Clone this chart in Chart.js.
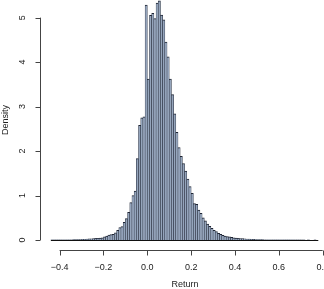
<!DOCTYPE html>
<html>
<head>
<meta charset="utf-8">
<script src="https://cdn.jsdelivr.net/npm/chart.js@4"></script>
<style>
  html, body { margin: 0; padding: 0; background: #fff; overflow: hidden; }
  #wrap { position: relative; width: 324px; height: 289px; }
</style>
</head>
<body>
<div id="wrap"><canvas id="myChart" width="324" height="289"></canvas></div>
<script>
// histogram of returns, bins of 0.01 starting at -0.44
const binStart = -0.44;
const binWidth = 0.01;
const density = [
  0.002, 0.002, 0.002, 0.002, 0.003, 0.003, 0.004, 0.004, 0.005, 0.006,
  0.007, 0.008, 0.010, 0.012, 0.014, 0.017, 0.02, 0.024, 0.028, 0.032,
  0.036, 0.04, 0.045, 0.05,
  0.07, 0.09, 0.11, 0.12, 0.13, 0.16, 0.22, 0.28, 0.3, 0.4,
  0.48, 0.62, 0.84, 1.0, 1.1, 1.83, 2.58, 2.75, 2.77, 5.28,
  3.62, 5.05, 5.1, 4.98, 5.33, 5.38, 5.06, 4.95, 4.45, 4.12,
  3.62, 3.27, 2.84, 2.42, 2.08, 1.88, 1.72, 1.55, 1.37, 1.2,
  1.05, 0.82, 0.8, 0.67, 0.6, 0.5, 0.43, 0.36, 0.31, 0.26,
  0.22, 0.19, 0.15, 0.13, 0.105, 0.09, 0.078, 0.07, 0.058, 0.05,
  0.045, 0.04, 0.034, 0.03, 0.026, 0.022, 0.019, 0.016, 0.013, 0.011,
  0.009, 0.008, 0.007, 0.006, 0.005, 0.005, 0.004, 0.004, 0.003, 0.003,
  0.003, 0.002, 0.002, 0.002, 0.002, 0.003, 0.002, 0.001, 0.001, 0.001,
  0.001, 0.001, 0, 0.001, 0, 0, 0.001, 0
];
const xTicks = [-0.4, -0.2, 0.0, 0.2, 0.4, 0.6, 0.8];
const yTicks = [0, 1, 2, 3, 4, 5];
const xTitle = 'Return';
const yTitle = 'Density';

const points = density.map((d, i) => ({ x: binStart + binWidth * (i + 0.5), y: d }));
const binEnd = binStart + binWidth * density.length;

function fmt(v) {
  const s = v.toFixed(1);
  return v < 0 ? '\u2212' + s.slice(1) : s;
}

// R-style axes drawn by hand
const rAxes = {
  id: 'rAxes',
  afterDraw(chart) {
    const c = chart.ctx;
    const xs = chart.scales.x, ys = chart.scales.y;
    c.save();
    // baseline of the histogram
    c.strokeStyle = '#111';
    c.lineWidth = 1;
    const y0 = Math.round(ys.getPixelForValue(0)) + 0.5;
    c.beginPath();
    c.moveTo(xs.getPixelForValue(binStart), y0);
    c.lineTo(xs.getPixelForValue(binEnd), y0);
    c.stroke();

    c.strokeStyle = '#444';
    c.fillStyle = '#222';
    c.font = '9px "Liberation Sans", Arial, sans-serif';
    // x axis
    const ax = 250.5;
    c.beginPath();
    c.moveTo(xs.getPixelForValue(xTicks[0]), ax);
    c.lineTo(xs.getPixelForValue(xTicks[xTicks.length - 1]), ax);
    xTicks.forEach(t => {
      const px = Math.round(xs.getPixelForValue(t)) + 0.5;
      c.moveTo(px, ax);
      c.lineTo(px, ax + 5);
    });
    c.stroke();
    c.textAlign = 'center';
    c.textBaseline = 'middle';
    xTicks.forEach(t => c.fillText(fmt(t), xs.getPixelForValue(t), 268));
    c.fillText(xTitle, 185, 285);

    // y axis
    const ay = 40.5;
    c.beginPath();
    c.moveTo(ay, ys.getPixelForValue(yTicks[0]));
    c.lineTo(ay, ys.getPixelForValue(yTicks[yTicks.length - 1]));
    yTicks.forEach(t => {
      const py = Math.round(ys.getPixelForValue(t)) + 0.5;
      c.moveTo(ay, py);
      c.lineTo(ay - 5, py);
    });
    c.stroke();
    yTicks.forEach(t => {
      c.save();
      c.translate(23, ys.getPixelForValue(t));
      c.rotate(-Math.PI / 2);
      c.fillText(String(t), 0, 0);
      c.restore();
    });
    c.save();
    c.translate(6, 120);
    c.rotate(-Math.PI / 2);
    c.fillText(yTitle, 0, 0);
    c.restore();
    c.restore();
  }
};

const ctx = document.getElementById('myChart');
new Chart(ctx, {
  type: 'bar',
  data: {
    datasets: [{
      label: yTitle,
      data: points,
      backgroundColor: '#95a5bc',
      borderColor: '#1e2433',
      borderWidth: { top: 1, left: 0.5, right: 0.5, bottom: 0 },
      borderSkipped: false,
      barPercentage: 1,
      categoryPercentage: 1
    }]
  },
  options: {
    responsive: false,
    animation: false,
    devicePixelRatio: 1,
    layout: { padding: { left: 40, right: 0, top: 0, bottom: 39 } },
    plugins: { legend: { display: false }, tooltip: { enabled: false } },
    scales: {
      x: { type: 'linear', offset: false, min: -0.4895, max: 0.806, display: false },
      y: { min: -0.225, max: 5.397, display: false }
    }
  },
  plugins: [rAxes]
});
</script>
</body>
</html>
